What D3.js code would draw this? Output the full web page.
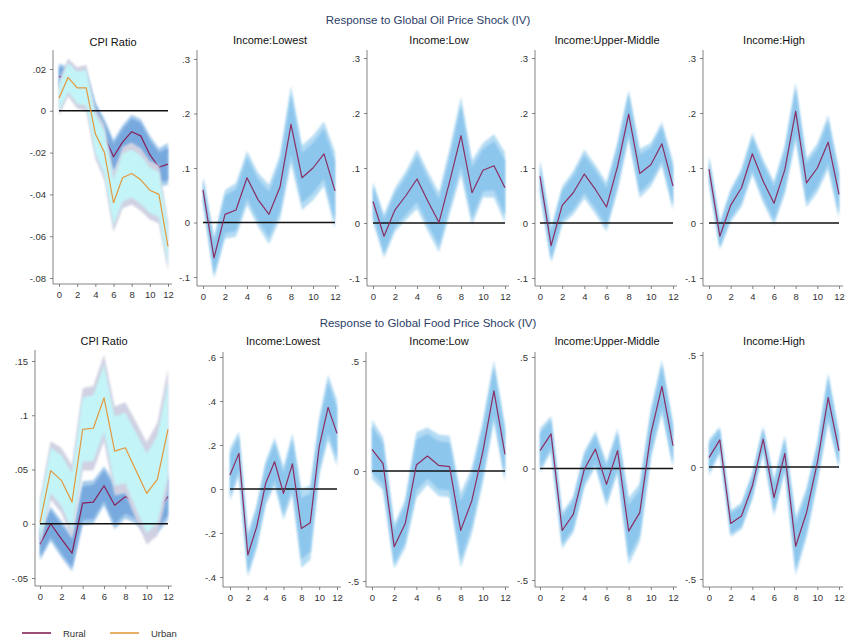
<!DOCTYPE html>
<html>
<head>
<meta charset="utf-8">
<script src="https://cdn.jsdelivr.net/npm/d3@7"></script>
<style>
  body { margin: 0; background: #fff; }
  svg { display: block; font-family: "Liberation Sans", Arial, Helvetica, sans-serif; }
</style>
</head>
<body>
<svg id="chart" width="846" height="639"></svg>
<script>
// Impulse-response horizons
const horizons = [0, 1, 2, 3, 4, 5, 6, 7, 8, 9, 10, 11, 12];
const xTicks = [0, 2, 4, 6, 8, 10, 12];

// ---- Oil price shock ----
const oilCpiRural    = [0.0165, 0.015, 0.012, 0.012, -0.003, -0.012, -0.022, -0.015, -0.010, -0.012, -0.021, -0.027, -0.0255];
const oilCpiRuralSe  = [0.0037, 0.0037, 0.0037, 0.0043, 0.0043, 0.0049, 0.0049, 0.0049, 0.0049, 0.0049, 0.0055, 0.0055, 0.0061];
const oilCpiUrban    = [0.006, 0.016, 0.011, 0.011, -0.011, -0.020, -0.044, -0.032, -0.030, -0.033, -0.038, -0.040, -0.065];
const oilCpiUrbanSe  = [0.0050, 0.0055, 0.0060, 0.0067, 0.0073, 0.0080, 0.0085, 0.0090, 0.0090, 0.0090, 0.0085, 0.0085, 0.0070];

const oilLowest      = [0.060, -0.065, 0.015, 0.023, 0.082, 0.042, 0.015, 0.065, 0.180, 0.082, 0.100, 0.126, 0.058];
const oilLowestSe    = [0.015, 0.023, 0.027, 0.030, 0.030, 0.030, 0.033, 0.036, 0.043, 0.036, 0.036, 0.036, 0.043];
const oilLow         = [0.039, -0.024, 0.024, 0.050, 0.080, 0.039, 0.001, 0.078, 0.159, 0.055, 0.096, 0.104, 0.064];
const oilLowSe       = [0.022, 0.024, 0.024, 0.027, 0.033, 0.033, 0.033, 0.036, 0.043, 0.036, 0.030, 0.035, 0.039];
const oilUpperMid    = [0.085, -0.041, 0.032, 0.055, 0.089, 0.061, 0.029, 0.103, 0.198, 0.090, 0.106, 0.144, 0.067];
const oilUpperMidSe  = [0.018, 0.019, 0.021, 0.024, 0.027, 0.027, 0.027, 0.027, 0.027, 0.027, 0.024, 0.024, 0.027];
const oilHigh        = [0.098, -0.024, 0.032, 0.064, 0.126, 0.076, 0.036, 0.097, 0.203, 0.073, 0.100, 0.147, 0.052];
const oilHighSe      = [0.015, 0.015, 0.018, 0.021, 0.023, 0.024, 0.024, 0.027, 0.032, 0.027, 0.027, 0.030, 0.027];

// ---- Food price shock ----
const foodCpiRural   = [-0.019, 0.000, -0.014, -0.027, 0.019, 0.020, 0.035, 0.017, 0.025, 0.020, 0.008, 0.012, 0.025];
const foodCpiRuralSe = [0.0090, 0.0097, 0.0103, 0.0103, 0.0122, 0.0122, 0.0110, 0.0134, 0.0122, 0.0122, 0.0122, 0.0128, 0.0134];
const foodCpiUrban   = [0.001, 0.049, 0.040, 0.020, 0.087, 0.088, 0.116, 0.067, 0.070, 0.049, 0.028, 0.041, 0.087];
const foodCpiUrbanSe = [0.0134, 0.0164, 0.0182, 0.0207, 0.0231, 0.0237, 0.0243, 0.0249, 0.0255, 0.0274, 0.0286, 0.0316, 0.0340];

const foodLowest     = [0.064, 0.162, -0.300, -0.171, 0.026, 0.124, -0.020, 0.114, -0.179, -0.153, 0.192, 0.371, 0.253];
const foodLowestSe   = [0.073, 0.061, 0.061, 0.061, 0.061, 0.067, 0.073, 0.085, 0.109, 0.103, 0.079, 0.091, 0.091];
const foodLow        = [0.098, 0.033, -0.344, -0.239, 0.027, 0.068, 0.026, 0.020, -0.270, -0.136, 0.088, 0.364, 0.076];
const foodLowSe      = [0.082, 0.073, 0.061, 0.067, 0.091, 0.079, 0.085, 0.085, 0.103, 0.091, 0.085, 0.085, 0.079];
const foodUpperMid   = [0.080, 0.155, -0.278, -0.206, -0.003, 0.087, -0.071, 0.080, -0.281, -0.198, 0.155, 0.368, 0.102];
const foodUpperMidSe = [0.061, 0.049, 0.049, 0.049, 0.049, 0.049, 0.061, 0.061, 0.091, 0.079, 0.067, 0.073, 0.061];
const foodHigh       = [0.042, 0.121, -0.252, -0.219, -0.085, 0.124, -0.137, 0.061, -0.354, -0.204, 0.019, 0.310, 0.072];
const foodHighSe     = [0.049, 0.036, 0.036, 0.036, 0.036, 0.036, 0.049, 0.049, 0.079, 0.067, 0.055, 0.067, 0.049];

// Tick labels per panel
const ticksOilCpi   = [-0.08, -0.06, -0.04, -0.02, 0, 0.02];
const ticksOilInc   = [-0.1, 0, 0.1, 0.2, 0.3];
const ticksFoodCpi  = [-0.05, 0, 0.05, 0.1, 0.15];
const ticksFoodLow  = [-0.4, -0.2, 0, 0.2, 0.4, 0.6];
const ticksFoodInc  = [-0.5, 0, 0.5];

const panelTitles = ["CPI Ratio", "Income:Lowest", "Income:Low", "Income:Upper-Middle", "Income:High"];
const rowTitles = ["Response to Global Oil Price Shock (IV)", "Response to Global Food Price Shock (IV)"];
const legendLabels = ["Rural", "Urban"];

// Confidence bands: inner 80%, outer 90%
const Z_INNER = 1.28, Z_OUTER = 1.645;

const colors = {
  incOuter: "#b4dbf3", incInner: "#8dc6ed", incLine: "#8b2f62",
  ruralOuter: "#a6cbec", ruralInner: "#78a9de", ruralLine: "#86205a",
  urbanOuter: "#d0d1e2", urbanInner: "#c3f4f7", urbanLine: "#e4983e",
  zero: "#111", axis: "#666", text: "#333", title: "#2b3d66"
};

// Panel frames: [x of h=0, x of h=12], y-axis x, tick extent -> pixel rows, plot top/bottom, title spot
const frames = [
  [ {x: [59, 168],  ax: 53,  yd: [-0.08, 0.02], yr: [278, 69],  top: 50,  bot: 284, tx: 113, ty: 46 },
    {x: [203, 335], ax: 197, yd: [-0.1, 0.3],   yr: [277, 59],  top: 50,  bot: 286, tx: 270, ty: 44 },
    {x: [373, 505], ax: 367, yd: [-0.1, 0.3],   yr: [278, 58],  top: 50,  bot: 286, tx: 439, ty: 44 },
    {x: [540, 673], ax: 535, yd: [-0.1, 0.3],   yr: [278, 58],  top: 50,  bot: 286, tx: 607, ty: 44 },
    {x: [709, 839], ax: 703, yd: [-0.1, 0.3],   yr: [278, 58],  top: 50,  bot: 286, tx: 774, ty: 44 } ],
  [ {x: [40, 168],  ax: 35,  yd: [-0.05, 0.15], yr: [578, 361], top: 350, bot: 586, tx: 104, ty: 345 },
    {x: [230, 337], ax: 223, yd: [-0.4, 0.6],   yr: [577, 357], top: 352, bot: 587, tx: 283, ty: 345 },
    {x: [372, 505], ax: 366, yd: [-0.5, 0.5],   yr: [581, 361], top: 352, bot: 587, tx: 439, ty: 345 },
    {x: [540, 673], ax: 535, yd: [-0.5, 0.5],   yr: [580, 357], top: 352, bot: 587, tx: 607, ty: 345 },
    {x: [709, 839], ax: 703, yd: [-0.5, 0.5],   yr: [579, 355], top: 352, bot: 587, tx: 774, ty: 345 } ]
];

const panels = [
  [ {type: "cpi", rural: oilCpiRural, ruralSe: oilCpiRuralSe, urban: oilCpiUrban, urbanSe: oilCpiUrbanSe, ticks: ticksOilCpi},
    {type: "inc", est: oilLowest, se: oilLowestSe, ticks: ticksOilInc},
    {type: "inc", est: oilLow, se: oilLowSe, ticks: ticksOilInc},
    {type: "inc", est: oilUpperMid, se: oilUpperMidSe, ticks: ticksOilInc},
    {type: "inc", est: oilHigh, se: oilHighSe, ticks: ticksOilInc} ],
  [ {type: "cpi", rural: foodCpiRural, ruralSe: foodCpiRuralSe, urban: foodCpiUrban, urbanSe: foodCpiUrbanSe, ticks: ticksFoodCpi},
    {type: "inc", est: foodLowest, se: foodLowestSe, ticks: ticksFoodLow},
    {type: "inc", est: foodLow, se: foodLowSe, ticks: ticksFoodInc},
    {type: "inc", est: foodUpperMid, se: foodUpperMidSe, ticks: ticksFoodInc},
    {type: "inc", est: foodHigh, se: foodHighSe, ticks: ticksFoodInc} ]
];

// Stata-style number labels: ".02", "-.4", "0"
function stataFmt(v) {
  if (Math.abs(v) < 1e-12) return "0";
  let s = String(+v.toFixed(4));
  return s.replace(/^0\./, ".").replace(/^-0\./, "-.");
}

const svg = d3.select("#chart");

// slightly feathered band edges
svg.append("defs").append("filter").attr("id", "soft")
  .attr("x", "-5%").attr("y", "-5%").attr("width", "110%").attr("height", "110%")
  .append("feGaussianBlur").attr("stdDeviation", 0.8);

function drawBand(g, x, y, est, se, z, fill) {
  const area = d3.area()
    .x((d, i) => x(horizons[i]))
    .y0((d, i) => y(est[i] - z * se[i]))
    .y1((d, i) => y(est[i] + z * se[i]));
  g.append("path").datum(est).attr("d", area).attr("fill", fill).attr("stroke", "none")
    .attr("filter", "url(#soft)");
}
function drawLine(g, x, y, est, stroke, w) {
  const line = d3.line().x((d, i) => x(horizons[i])).y(d => y(d));
  g.append("path").datum(est).attr("d", line).attr("fill", "none")
    .attr("stroke", stroke).attr("stroke-width", w).attr("stroke-linejoin", "round");
}

panels.forEach((row, r) => {
  row.forEach((p, c) => {
    const f = frames[r][c];
    const x = d3.scaleLinear().domain([0, 12]).range(f.x);
    const y = d3.scaleLinear().domain(f.yd).range(f.yr);
    const g = svg.append("g");

    if (p.type === "inc") {
      drawBand(g, x, y, p.est, p.se, Z_OUTER, colors.incOuter);
      drawBand(g, x, y, p.est, p.se, Z_INNER, colors.incInner);
    } else {
      drawBand(g, x, y, p.rural, p.ruralSe, Z_OUTER, colors.ruralOuter);
      drawBand(g, x, y, p.rural, p.ruralSe, Z_INNER, colors.ruralInner);
      drawLine(g, x, y, p.rural, colors.ruralLine, 1.2);
      drawBand(g, x, y, p.urban, p.urbanSe, Z_OUTER, colors.urbanOuter);
      drawBand(g, x, y, p.urban, p.urbanSe, Z_INNER, colors.urbanInner);
    }

    // zero reference line
    g.append("line").attr("x1", x(0)).attr("x2", x(12)).attr("y1", y(0)).attr("y2", y(0))
      .attr("stroke", colors.zero).attr("stroke-width", 1.4);

    if (p.type === "inc") {
      drawLine(g, x, y, p.est, colors.incLine, 1.2);
    } else {
      drawLine(g, x, y, p.urban, colors.urbanLine, 1.2);
    }

    // axes
    const yAxis = d3.axisLeft(y).tickValues(p.ticks).tickFormat(stataFmt).tickSize(3).tickPadding(4);
    const ya = g.append("g").attr("transform", `translate(${f.ax},0)`).call(yAxis);
    const xAxis = d3.axisBottom(x).tickValues(xTicks).tickFormat(d3.format("d")).tickSize(3).tickPadding(4);
    const xa = g.append("g").attr("transform", `translate(0,${f.bot})`).call(xAxis);
    [ya, xa].forEach(a => {
      a.select(".domain").remove();
      a.selectAll(".tick line").attr("stroke", colors.axis).attr("stroke-width", 0.8);
      a.selectAll(".tick text").attr("fill", colors.text).attr("font-size", 9.5)
        .attr("font-family", "'Liberation Sans', Arial, sans-serif");
    });
    g.append("line").attr("x1", f.ax).attr("x2", f.ax).attr("y1", f.top).attr("y2", f.bot)
      .attr("stroke", colors.axis).attr("stroke-width", 0.8);
    g.append("line").attr("x1", f.ax).attr("x2", x(12) + 4).attr("y1", f.bot).attr("y2", f.bot)
      .attr("stroke", colors.axis).attr("stroke-width", 0.8);

    g.append("text").attr("x", f.tx).attr("y", f.ty).attr("text-anchor", "middle")
      .attr("font-size", 11).attr("fill", "#111").text(panelTitles[c]);
  });
});

// row headings
svg.selectAll("text.rowTitle").data(rowTitles).join("text")
  .attr("class", "rowTitle")
  .attr("x", 428).attr("y", (d, i) => i === 0 ? 24 : 327)
  .attr("text-anchor", "middle").attr("font-size", 11.5).attr("fill", colors.title)
  .text(d => d);

// legend
const legend = svg.append("g");
const legColors = [colors.ruralLine, colors.urbanLine];
const legX = [22, 110];
legendLabels.forEach((lab, i) => {
  legend.append("line").attr("x1", legX[i]).attr("x2", legX[i] + 29).attr("y1", 633).attr("y2", 633)
    .attr("stroke", legColors[i]).attr("stroke-width", 1.6);
  legend.append("text").attr("x", legX[i] + 41).attr("y", 637).attr("font-size", 9.5)
    .attr("fill", colors.text).text(lab);
});
</script>
</body>
</html>
